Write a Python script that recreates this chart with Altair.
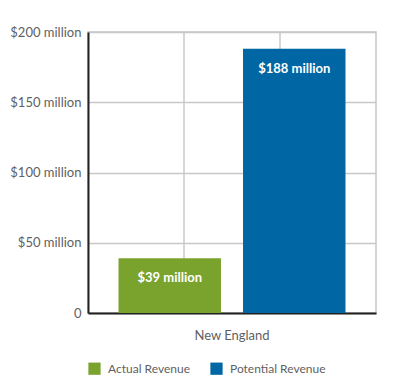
import altair as alt
import pandas as pd

regions = ["New England", "New England"]
series = ["Actual Revenue", "Potential Revenue"]
values = [39, 188]
labels = ["$39 million", "$188 million"]
colors = ["#7aa32e", "#0066a4"]

df = pd.DataFrame({"region": regions, "series": series, "value": values, "label": labels})

FONT = "Lato"
GRID = "#c8c8c8"
TXT = "#5f5f5f"

x_enc = alt.X("region:N", title=None,
              scale=alt.Scale(paddingInner=0, paddingOuter=0),
              axis=alt.Axis(labelAngle=0, labelFont=FONT, labelFontSize=13, labelColor=TXT,
                            labelPadding=16, ticks=False, domainColor="#222222", domainWidth=2,
                            grid=False))
xo_enc = alt.XOffset("series:N", scale=alt.Scale(paddingInner=0.177, paddingOuter=0.245))
y_enc = alt.Y("value:Q", title=None,
              scale=alt.Scale(domain=[0, 200]),
              axis=alt.Axis(values=[0, 50, 100, 150, 200],
                            labelExpr="datum.value == 0 ? '0' : '$' + datum.value + ' million'",
                            labelFont=FONT, labelFontSize=13, labelColor=TXT, labelPadding=7,
                            ticks=False, domainColor="#222222", domainWidth=2,
                            gridColor=GRID, gridWidth=1.5))

bars = alt.Chart(df).mark_bar().encode(
    x=x_enc, xOffset=xo_enc, y=y_enc,
    color=alt.Color("series:N", title=None,
                    scale=alt.Scale(domain=series, range=colors),
                    legend=alt.Legend(orient="bottom", direction="horizontal", symbolType="square",
                                      symbolSize=150, symbolStrokeWidth=0, labelFont=FONT,
                                      labelFontSize=12, labelColor=TXT, columnPadding=20,
                                      offset=20, symbolOpacity=1, labelOffset=7)),
)

text = alt.Chart(df).mark_text(baseline="middle", dy=20, color="white", fontWeight="bold",
                               font=FONT, fontSize=13).encode(
    x=alt.X("region:N"), xOffset=alt.XOffset("series:N"), y=alt.Y("value:Q"), text="label:N"
)

vgrid = [
    alt.Chart(df.head(1)).mark_rule(color=GRID, strokeWidth=1.5).encode(
        x=alt.value(v), y=alt.value(0), y2=alt.value(281))
    for v in (96, 192)
]

chart = alt.layer(*vgrid, bars, text).properties(
    width=288, height=281,
    autosize=alt.AutoSizeParams(type="none"),
    padding={"left": 80, "top": 24, "right": 16, "bottom": 75},
).configure_view(stroke=GRID, strokeWidth=1.5)

chart.save("out.html", embed_options={"renderer": "svg", "actions": False})
